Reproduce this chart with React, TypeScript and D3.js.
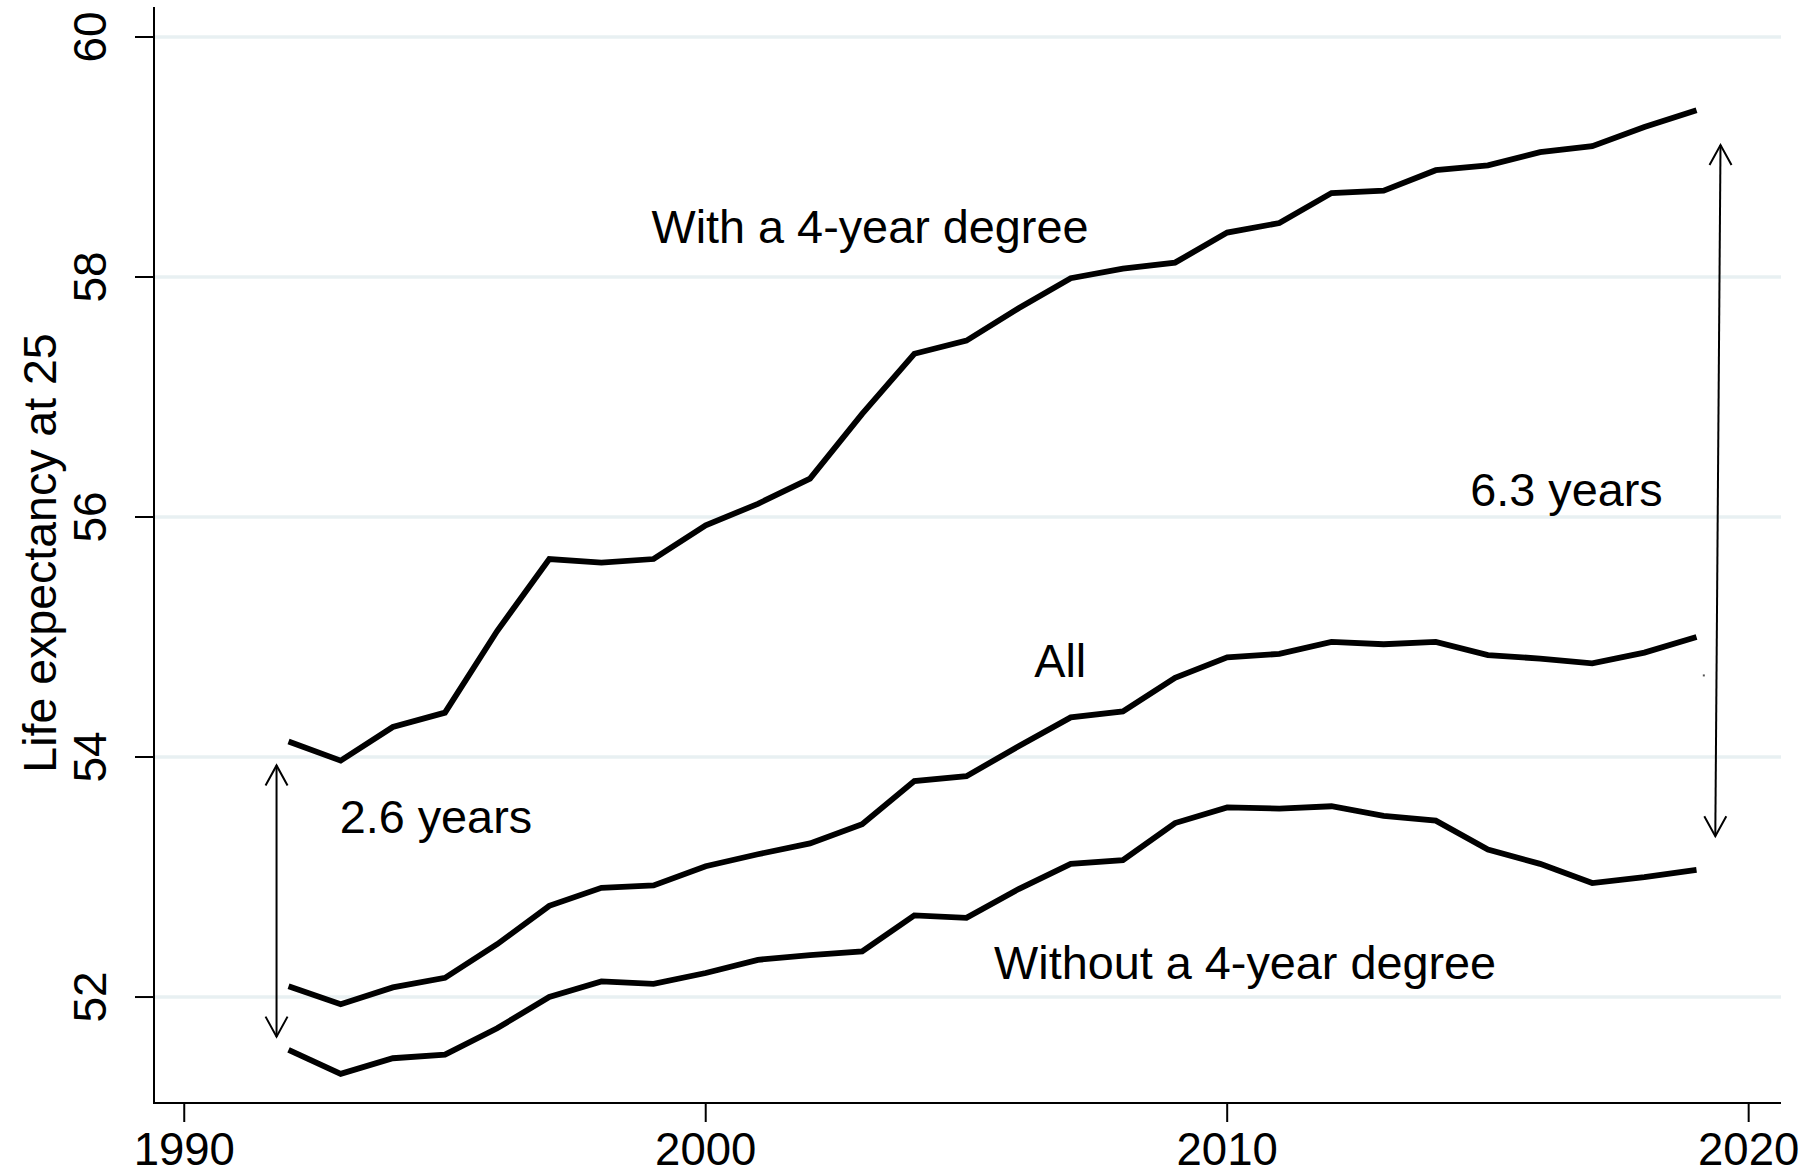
import React from "react";
import * as d3 from "d3";

const years = [1992,1993,1994,1995,1996,1997,1998,1999,2000,2001,2002,2003,2004,2005,2006,2007,2008,2009,2010,2011,2012,2013,2014,2015,2016,2017,2018,2019];
const withDegree = [54.13,53.97,54.25,54.37,55.05,55.65,55.62,55.65,55.93,56.11,56.32,56.86,57.36,57.47,57.74,57.99,58.07,58.12,58.37,58.45,58.70,58.72,58.89,58.93,59.04,59.09,59.25,59.39];
const allPeople = [52.09,51.94,52.08,52.16,52.44,52.76,52.91,52.93,53.09,53.19,53.28,53.44,53.80,53.84,54.09,54.33,54.38,54.66,54.83,54.86,54.96,54.94,54.96,54.85,54.82,54.78,54.87,55.00];
const withoutDegree = [51.56,51.36,51.49,51.52,51.74,52.00,52.13,52.11,52.20,52.31,52.35,52.38,52.68,52.66,52.90,53.11,53.14,53.45,53.58,53.57,53.59,53.51,53.47,53.23,53.11,52.95,53.00,53.06];

const xTicks = [1990, 2000, 2010, 2020];
const yTicks = [52, 54, 56, 58, 60];
const yTitle = "Life expectancy at 25";

const labelTexts = ["With a 4-year degree", "All", "Without a 4-year degree", "2.6 years", "6.3 years"];
const labelYears = [1998.96, 2006.3, 2005.53, 1992.98, 2014.66];
const labelValues = [58.284, 54.67, 52.15, 53.365, 56.09];

const arrowStartYears = [1991.77, 2019.46];
const arrowStartValues = [53.93, 59.10];
const arrowEndYears = [1991.77, 2019.36];
const arrowEndValues = [51.67, 53.34];

const W = 1816, H = 1175;
const L = 154, R = 1781, T = 7, B = 1103;
const FONT = "'Liberation Sans', Arial, Helvetica, sans-serif";

export default function App() {
  const x = d3.scaleLinear().domain([1989.42, 2020.62]).range([L, R]);
  const y = d3.scaleLinear().domain([51.117, 60.25]).range([B, T]);
  const line = d3.line<number>().x((_, i) => x(years[i])).y((d) => y(d)).curve(d3.curveLinear);
  const series = [withDegree, allPeople, withoutDegree];

  const arrowHead = (tx: number, ty: number, dir: number) => {
    const h = 20, w = 11;
    return `M${tx - w},${ty + dir * h} L${tx},${ty} L${tx + w},${ty + dir * h}`;
  };

  return (
    <svg width={W} height={H} style={{ position: "absolute", left: 0, top: 0, background: "#fff" }}>
      <rect x={0} y={0} width={W} height={H} fill="#fff" />
      {yTicks.map((t) => (
        <line key={"g" + t} x1={L} x2={R} y1={y(t)} y2={y(t)} stroke="#E8F0F2" strokeWidth={3.5} />
      ))}
      <line x1={L} x2={L} y1={T} y2={B + 1} stroke="#000" strokeWidth={2} />
      <line x1={L - 1} x2={R} y1={B} y2={B} stroke="#000" strokeWidth={2} />
      {yTicks.map((t) => (
        <g key={"yt" + t}>
          <line x1={L - 19} x2={L} y1={y(t)} y2={y(t)} stroke="#000" strokeWidth={2} />
          <text transform={`translate(106,${y(t)}) rotate(-90)`} textAnchor="middle" fontFamily={FONT} fontSize={46} fill="#000">{t}</text>
        </g>
      ))}
      {xTicks.map((t) => (
        <g key={"xt" + t}>
          <line x1={x(t)} x2={x(t)} y1={B} y2={B + 19} stroke="#000" strokeWidth={2} />
          <text x={x(t)} y={1165} textAnchor="middle" fontFamily={FONT} fontSize={45.5} fill="#000">{t}</text>
        </g>
      ))}
      <text transform={`translate(56,553) rotate(-90)`} textAnchor="middle" fontFamily={FONT} fontSize={46.5} fill="#000">{yTitle}</text>
      {series.map((s, i) => (
        <path key={"s" + i} d={line(s) || ""} fill="none" stroke="#000" strokeWidth={5.8} strokeLinejoin="miter" strokeLinecap="butt" />
      ))}
      {arrowStartYears.map((sx, i) => {
        const x1 = x(sx), y1 = y(arrowStartValues[i]);
        const x2 = x(arrowEndYears[i]), y2 = y(arrowEndValues[i]);
        return (
          <g key={"a" + i} stroke="#000" strokeWidth={2} fill="none">
            <line x1={x1} y1={y1} x2={x2} y2={y2} />
            <path d={arrowHead(x1, y1, 1)} />
            <path d={arrowHead(x2, y2, -1)} />
          </g>
        );
      })}
      <rect x={x(2019.14) - 1} y={y(54.68) - 1} width={2} height={2} fill="#555" />
      {labelTexts.map((t, i) => (
        <text key={"l" + i} x={x(labelYears[i])} y={y(labelValues[i])} fontFamily={FONT} fontSize={46.8} fill="#000">{t}</text>
      ))}
    </svg>
  );
}
